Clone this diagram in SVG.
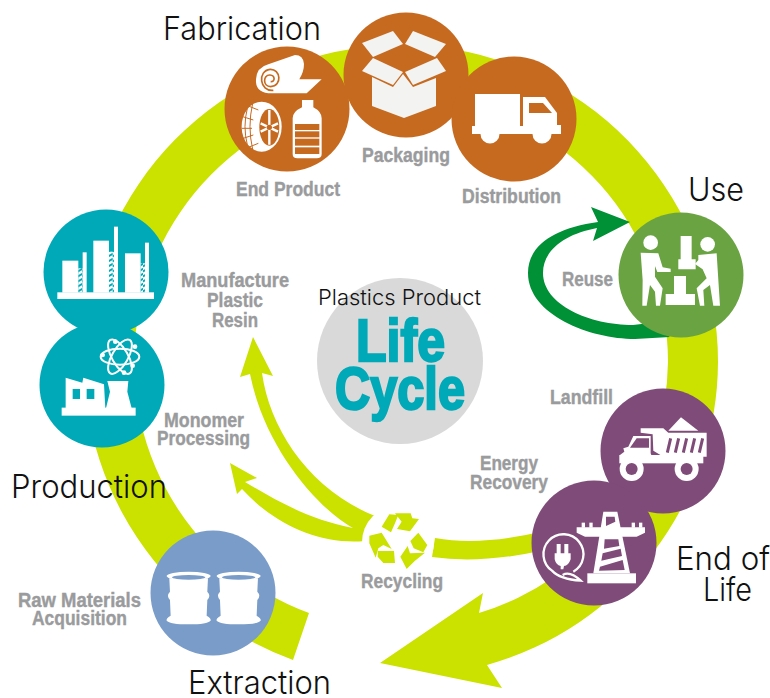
<svg xmlns="http://www.w3.org/2000/svg" width="770" height="698" viewBox="0 0 770 698">
<style>
.h{font-family:"Inter","Liberation Sans",sans-serif;font-weight:300;fill:#111;font-size:32.5px}
.l{font-family:"Liberation Sans",Arial,sans-serif;font-weight:700;fill:#9a9b9d;stroke:#9a9b9d;stroke-width:.4px;font-size:20px}
.big{font-family:"Liberation Sans",Arial,sans-serif;font-weight:700;fill:#00a9b8;stroke:#00a9b8;stroke-width:2.4px;font-size:60px}
.lime{fill:#cbe100}.or{fill:#c66a20}.te{fill:#00a9b8}.pu{fill:#7f4b79}.w{fill:#fff}
</style>
<defs>
<pattern id="hatch" width="13" height="15" patternUnits="userSpaceOnUse"><path d="M-2,13 L15,3 M-2,28 L15,18 M-2,-2 L15,-12" stroke="#fff" stroke-width="7" fill="none"/></pattern>
<g id="barrel"><ellipse cx="566" cy="378" rx="66" ry="13" fill="#fff"/><path d="M508,385 L510,425 Q498,437 510,450 L512,497 Q498,505 500,512 Q510,523 566,523 Q622,523 632,512 Q634,505 620,497 L622,450 Q634,437 622,425 L624,385 Z" fill="#fff"/><ellipse cx="566" cy="382" rx="50" ry="7" fill="#7a9cc9"/></g>
</defs>
<g id="connectors">
<path id="main-cycle" class="lime" d="M293,660 A317,317 0 1 1 718,362 A316,316 0 0 1 487,665 L502,688 L380,663 L483,593 L479,613 A266,266 0 0 0 668,362 A267,267 0 1 0 309,613 Z"/>
<path id="recycle-arrows" class="lime" d="M253,337 L273,376 L262,373 C270,430 310,490 375,516 L365,541 C320,545 275,525 242,489 L237,494 L230,463 L257,478 L245,482 C275,500 310,520 353,528 C320,510 265,450 250,374 L240,377 Z"/>
<path id="energy-strip" class="lime" d="M435,538 Q480,546 540,532 L540,551 Q480,564 432,557 Z"/>
<path id="reuse-arrow" fill="#009036" d="M630,222 L591,207 L598,222 C555,228 528,245 528,273 C528,315 590,339 635,339 L670,337 L650,323 L633,325 C590,325 543,305 543,273 C543,250 565,234 597,228 L593,241 Z"/>
</g>
<g id="recycling">
<circle cx="398" cy="542" r="36" fill="#fff"/>
<g class="lime" transform="translate(355 505) scale(.3333)">
<path d="M80,65 L103,28 L130,30 L120,55 L108,82 Z"/>
<path d="M120,25 L167,25 L172,40 L192,42 L165,79 L126,72 L140,50 Z"/>
<path d="M43,92 L80,83 L110,132 L85,120 L70,130 L62,158 L43,115 Z"/>
<path d="M68,138 L117,138 L120,174 L85,174 L68,155 Z"/>
<path d="M166,108 L190,83 L217,120 L205,142 L176,130 Z"/>
<path d="M158,123 L165,145 L210,143 L180,167 L155,192 L136,155 Z"/>
</g>
</g>
<g id="extraction">
<circle cx="213" cy="593" r="62.5" fill="#7a9cc9"/>
<g transform="translate(0 450) scale(.3333)"><use href="#barrel"/><use href="#barrel" x="150"/></g>
</g>
<g id="production-monomer">
<circle cx="102" cy="385" r="62.5" class="te"/>
<g transform="translate(0 200) scale(.3333)">
<rect x="185" y="623" width="222" height="24" class="w"/>
<path class="w" d="M197,533 L247,548 L250,533 L312,553 L316,625 L197,625 Z"/>
<rect x="218" y="567" width="22" height="30" class="te"/><rect x="260" y="567" width="23" height="30" class="te"/>
<path class="w" d="M322,543 L385,543 L382,575 L395,625 L318,625 L330,575 Z"/>
<g fill="none" stroke="#fff" stroke-width="6"><ellipse cx="360" cy="470" rx="58" ry="24"/><ellipse cx="360" cy="470" rx="58" ry="24" transform="rotate(60 360 470)"/><ellipse cx="360" cy="470" rx="58" ry="24" transform="rotate(-60 360 470)"/></g>
<g class="w"><circle cx="346" cy="425" r="7"/><circle cx="405" cy="440" r="7"/><circle cx="308" cy="465" r="7"/><circle cx="398" cy="497" r="7"/><circle cx="372" cy="518" r="7"/></g>
</g>
</g>
<g id="production-resin">
<circle cx="106" cy="272" r="62.5" class="te"/>
<g transform="translate(0 200) scale(.3333)">
<rect x="172" y="277" width="290" height="20" class="w"/>
<g class="w"><rect x="187" y="182" width="48" height="96"/><rect x="280" y="122" width="47" height="156"/><rect x="375" y="160" width="47" height="118"/><rect x="248" y="157" width="12" height="121"/><rect x="342" y="80" width="12" height="198"/><rect x="435" y="128" width="12" height="150"/></g>
<rect x="235" y="205" width="13" height="72" fill="url(#hatch)"/><rect x="327" y="155" width="15" height="122" fill="url(#hatch)"/><rect x="422" y="190" width="13" height="87" fill="url(#hatch)"/>
</g>
</g>
<g id="fabrication-end-product">
<circle cx="287" cy="109" r="62.5" class="or"/>
<g transform="translate(240 50) scale(.3333)">
<path class="w" d="M85,43 L165,15 Q190,15 192,42 Q192,65 178,88 L245,88 L200,130 L85,130 Q45,125 48,88 Q50,52 85,43 Z"/>
<path d="M100,121 C58,125 52,62 90,58 C122,56 128,108 92,110 C68,110 68,74 90,75 C106,76 106,96 92,95" fill="none" stroke="#c66a20" stroke-width="5"/>
<ellipse cx="65" cy="230" rx="60" ry="75" class="w"/>
<path d="M22,175 Q8,230 22,285 M38,160 Q22,230 38,298 M8,200 L40,210 M6,235 L36,235 M10,265 L40,255 M25,168 L55,180 M25,292 L55,280" stroke="#c66a20" stroke-width="3" fill="none"/>
<ellipse cx="88" cy="232" rx="30" ry="55" class="or"/>
<g stroke="#fff" stroke-width="7"><path d="M88,180 L88,284 M62,220 L114,245 M62,245 L114,220"/></g>
<circle cx="88" cy="232" r="8" class="or"/>
<path class="w" d="M186,150 L220,150 L220,172 Q245,185 245,205 L245,312 Q245,325 230,325 L172,325 Q158,325 158,312 L158,205 Q158,185 186,172 Z"/>
<g class="or"><rect x="165" y="222" width="73" height="18"/><rect x="165" y="244" width="73" height="18"/><rect x="165" y="266" width="73" height="21"/><rect x="165" y="292" width="73" height="20"/></g>
</g>
</g>
<g id="fabrication-packaging">
<circle cx="406" cy="75" r="62.5" class="or"/>
<g fill="#f3f3f1">
<path d="M362,43 L393,31 L403,44 L373,57 Z"/><path d="M413,31 L446,44 L435,57 L405,44 Z"/>
<path d="M362,71 L373,58 L403,72 L393,85 Z"/><path d="M437,58 L446,71 L413,85 L405,72 Z"/>
<path d="M372,77 L393,87 L403,74 L413,87 L436,78 L436,106 L404,118 L372,106 Z"/>
</g>
</g>
<g id="fabrication-distribution">
<circle cx="514" cy="119" r="62.5" class="or"/>
<g class="w"><rect x="475" y="94" width="45" height="40"/><path d="M523,97 L545,97 L557,113 L557,125 L561,125 L561,134 L523,134 Z"/><rect x="472" y="126" width="89" height="8"/><circle cx="490" cy="134" r="9.5"/><circle cx="542" cy="134" r="9.5"/></g>
<path class="or" d="M529,103 L543,103 L552,113 L529,113 Z"/>
</g>
<g id="use">
<circle cx="681" cy="275" r="62.5" fill="#6aa342"/>
<g class="w" transform="translate(520 190) scale(.3333)">
<circle cx="392" cy="158" r="22"/>
<path d="M362,188 L415,190 L428,232 L452,236 L452,246 L412,246 L405,228 L405,260 L428,295 L420,347 L408,347 L405,305 L390,285 L380,347 L367,347 L368,270 Z"/>
<path d="M482,138 L515,138 L515,208 L527,208 L527,238 L475,238 L475,208 L482,208 Z"/>
<path d="M462,258 L498,258 L498,312 L525,312 L525,345 L437,345 L437,312 L462,312 Z"/>
<circle cx="563" cy="163" r="22"/>
<path d="M535,195 L590,190 L600,347 L580,347 L570,285 L550,300 L553,347 L540,347 L530,295 L560,265 L548,238 L525,222 L535,210 Z"/>
</g>
</g>
<g id="end-of-life-landfill">
<circle cx="663" cy="451" r="62.5" class="pu"/>
<g transform="translate(530 410) scale(.3333)">
<g class="w">
<path d="M415,62 L453,22 L505,62 Z"/>
<path d="M332,55 L400,55 L415,68 L530,68 L530,140 L400,140 L370,122 L368,73 L332,68 Z"/>
<path d="M310,78 L362,78 L362,130 L370,150 L285,150 L270,135 L283,125 L280,115 L295,110 Z"/>
<rect x="268" y="135" width="252" height="25"/>
<circle cx="305" cy="177" r="36"/><circle cx="470" cy="177" r="36"/>
</g>
<g class="pu"><path d="M320,85 L357,85 L357,113 L300,113 Z"/><circle cx="305" cy="177" r="18"/><circle cx="470" cy="177" r="18"/></g>
<path d="M412,128 L422,85 M436,128 L446,85 M460,128 L470,85 M484,128 L494,85 M508,128 L518,85" stroke="#7f4b79" stroke-width="9" fill="none"/>
</g>
</g>
<g id="end-of-life-energy">
<circle cx="594" cy="543" r="62.5" class="pu"/>
<g transform="translate(530 410) scale(.3333)">
<g class="w">
<rect x="172" y="490" width="146" height="30"/>
<path d="M220,305 L262,305 L300,490 L190,490 Z"/>
<path d="M140,352 L345,352 L345,368 L320,380 L165,380 L140,368 Z"/>
<rect x="155" y="338" width="10" height="15"/><rect x="178" y="338" width="10" height="15"/><rect x="305" y="338" width="10" height="15"/><rect x="327" y="338" width="10" height="15"/>
</g>
<path class="pu" d="M228,320 L254,320 L256,335 L228,348 Z M224,388 L265,388 L268,408 L222,416 Z M218,430 L272,416 L276,438 L214,452 Z M210,470 L278,450 L284,480 L207,482 Z"/>
<path d="M130,485 A60,60 0 1 0 66,482 Q90,508 152,512 Q120,482 98,495" fill="none" stroke="#fff" stroke-width="7"/>
<g class="w"><path d="M74,430 L122,430 L122,448 Q115,468 102,468 L100,478 L92,478 L92,468 Q78,465 74,448 Z"/><rect x="80" y="402" width="12" height="30"/><rect x="103" y="402" width="12" height="30"/></g>
</g>
</g>
<g id="center">
<circle cx="400" cy="361" r="83" fill="#d9d9d9"/>
<text x="318" y="305" class="h" style="font-size:22px" textLength="163" lengthAdjust="spacingAndGlyphs">Plastics Product</text>
<text x="356" y="361" class="big" textLength="89" lengthAdjust="spacingAndGlyphs">Life</text>
<text x="335" y="409" class="big" textLength="130" lengthAdjust="spacingAndGlyphs">Cycle</text>
</g>
<g id="headings">
<text x="163" y="40" class="h" textLength="158" lengthAdjust="spacingAndGlyphs">Fabrication</text>
<text x="688" y="201" class="h" textLength="56" lengthAdjust="spacingAndGlyphs">Use</text>
<text x="676" y="570" class="h" textLength="94" lengthAdjust="spacingAndGlyphs">End of</text>
<text x="703" y="601" class="h" textLength="49" lengthAdjust="spacingAndGlyphs">Life</text>
<text x="11" y="498" class="h" textLength="156" lengthAdjust="spacingAndGlyphs">Production</text>
<text x="188" y="694" class="h" textLength="143" lengthAdjust="spacingAndGlyphs">Extraction</text>
</g>
<g id="labels">
<text x="236" y="196" class="l" textLength="104" lengthAdjust="spacingAndGlyphs">End Product</text>
<text x="362" y="162" class="l" textLength="88" lengthAdjust="spacingAndGlyphs">Packaging</text>
<text x="462" y="203" class="l" textLength="99" lengthAdjust="spacingAndGlyphs">Distribution</text>
<text x="562" y="286" class="l" textLength="51" lengthAdjust="spacingAndGlyphs">Reuse</text>
<text x="550" y="404" class="l" textLength="63" lengthAdjust="spacingAndGlyphs">Landfill</text>
<text x="480" y="470" class="l" textLength="58" lengthAdjust="spacingAndGlyphs">Energy</text>
<text x="470" y="489" class="l" textLength="78" lengthAdjust="spacingAndGlyphs">Recovery</text>
<text x="361" y="588" class="l" textLength="82" lengthAdjust="spacingAndGlyphs">Recycling</text>
<text x="181" y="287" class="l" textLength="108" lengthAdjust="spacingAndGlyphs">Manufacture</text>
<text x="207" y="307" class="l" textLength="56" lengthAdjust="spacingAndGlyphs">Plastic</text>
<text x="212" y="327" class="l" textLength="46" lengthAdjust="spacingAndGlyphs">Resin</text>
<text x="164" y="427" class="l" textLength="80" lengthAdjust="spacingAndGlyphs">Monomer</text>
<text x="157" y="445" class="l" textLength="93" lengthAdjust="spacingAndGlyphs">Processing</text>
<text x="18" y="607" class="l" textLength="123" lengthAdjust="spacingAndGlyphs">Raw Materials</text>
<text x="32" y="625" class="l" textLength="95" lengthAdjust="spacingAndGlyphs">Acquisition</text>
</g>
</svg>
